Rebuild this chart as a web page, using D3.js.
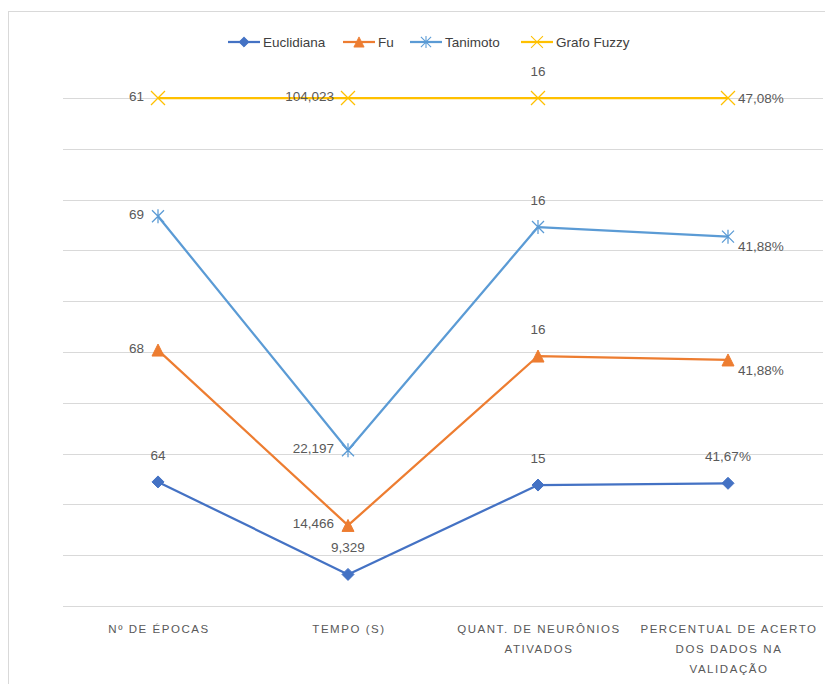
<!DOCTYPE html>
<html>
<head>
<meta charset="utf-8">
<script src="https://cdn.jsdelivr.net/npm/d3@7"></script>
<style>
  html, body { margin: 0; padding: 0; background: #ffffff; }
  svg { display: block; }
</style>
</head>
<body>
<svg id="chart" width="825" height="684"></svg>
<script>
// Categories (x axis), each wrapped onto lines
const categories = [
  ["Nº DE ÉPOCAS"],
  ["TEMPO (S)"],
  ["QUANT. DE NEURÔNIOS", "ATIVADOS"],
  ["PERCENTUAL DE ACERTO", "DOS DADOS NA", "VALIDAÇÃO"]
];

// Series values (100% stacked line chart: each column is normalised to its total)
const seriesNames = ["Euclidiana", "Fu", "Tanimoto", "Grafo Fuzzy"];
const euclidiana = [64, 9.329, 15, 41.67];
const fu         = [68, 14.466, 16, 41.88];
const tanimoto   = [69, 22.197, 16, 41.88];
const grafoFuzzy = [61, 104.023, 16, 47.08];

// Value label formats per category (decimal comma)
const labelDecimals = [0, 3, 0, 2];
const labelSuffix   = ["", "", "", "%"];

// Where each value label sits relative to its point
const labelPlacement = [
  ["above", "above", "above", "above"],
  ["left", "left", "above", "rightLow"],
  ["left", "left", "above", "rightLow"],
  ["left", "left", "above", "right"]
];

const colors = ["#4472C4", "#ED7D31", "#5B9BD5", "#FFC000"];
const markers = ["diamond", "triangle", "asterisk", "cross"];

const svg = d3.select("#chart");
const FONT = "'Liberation Sans', Arial, sans-serif";
const TEXT = "#595959";

const plot = { left: 63, right: 823, top: 98, bottom: 606 };

// outer chart-area border
svg.append("rect")
  .attr("x", 8.5).attr("y", 11.5)
  .attr("width", 840).attr("height", 700)
  .attr("fill", "none").attr("stroke", "#d9d9d9").attr("stroke-width", 1);

const x = d3.scaleBand()
  .domain(d3.range(categories.length))
  .range([plot.left, plot.right])
  .paddingInner(0).paddingOuter(0);
const xc = i => x(i) + x.bandwidth() / 2;

const y = d3.scaleLinear().domain([0, 1]).range([plot.bottom, plot.top]);

// gridlines every 10%
svg.append("g").selectAll("line")
  .data(y.ticks(10))
  .join("line")
  .attr("x1", plot.left).attr("x2", plot.right)
  .attr("y1", d => Math.round(y(d)) + 0.5).attr("y2", d => Math.round(y(d)) + 0.5)
  .attr("stroke", "#d9d9d9").attr("stroke-width", 1);

// stacked, normalised series
const raw = [euclidiana, fu, tanimoto, grafoFuzzy];
const totals = categories.map((_, i) => d3.sum(raw, s => s[i]));
const stackedShare = raw.map((s, k) =>
  s.map((_, i) => d3.sum(raw.slice(0, k + 1), r => r[i]) / totals[i]));

const fmtLocale = d3.formatLocale({ decimal: ",", thousands: ".", grouping: [3], currency: ["", ""] });
const fmtLabel = (v, i) => fmtLocale.format("." + labelDecimals[i] + "f")(v) + labelSuffix[i];

function markerPath(type) {
  const s = 6;
  switch (type) {
    case "diamond":  return `M0,${-s}L${s},0L0,${s}L${-s},0Z`;
    case "triangle": return `M0,${-s}L${s},${s}L${-s},${s}Z`;
    case "asterisk": return `M${-s},${-s}L${s},${s}M${-s},${s}L${s},${-s}M0,${-s - 1}L0,${s + 1}`;
    case "cross":    return `M${-s - 1},${-s - 1}L${s + 1},${s + 1}M${-s - 1},${s + 1}L${s + 1},${-s - 1}`;
  }
}
function drawMarker(g, type, color) {
  const filled = type === "diamond" || type === "triangle";
  g.append("path")
    .attr("d", markerPath(type))
    .attr("fill", filled ? color : "none")
    .attr("stroke", color)
    .attr("stroke-width", filled ? 1 : 1.25);
}

const line = d3.line().x((d, i) => xc(i)).y(d => y(d));

raw.forEach((s, k) => {
  const g = svg.append("g");
  g.append("path")
    .datum(stackedShare[k])
    .attr("d", line)
    .attr("fill", "none")
    .attr("stroke", colors[k])
    .attr("stroke-width", 2.25)
    .attr("stroke-linejoin", "round");

  stackedShare[k].forEach((v, i) => {
    const m = g.append("g").attr("transform", `translate(${xc(i)},${y(v)})`);
    drawMarker(m, markers[k], colors[k]);
  });

  // value labels
  s.forEach((v, i) => {
    const px = xc(i), py = y(stackedShare[k][i]);
    const place = labelPlacement[k][i];
    let tx = px, ty = py, anchor = "middle";
    if (place === "above") { ty = py - 27; }
    else if (place === "left") { tx = px - 14; anchor = "end"; ty = py - 2; }
    else if (place === "right") { tx = px + 10; anchor = "start"; }
    else if (place === "rightLow") { tx = px + 10; anchor = "start"; ty = py + 10; }
    svg.append("text")
      .attr("x", tx).attr("y", ty)
      .attr("dy", "0.35em")
      .attr("text-anchor", anchor)
      .attr("font-family", FONT)
      .attr("font-size", 13.5)
      .attr("fill", TEXT)
      .text(fmtLabel(v, i));
  });
});

// category labels
const cat = svg.append("g");
categories.forEach((lines, i) => {
  const t = cat.append("text")
    .attr("text-anchor", "middle")
    .attr("font-family", FONT)
    .attr("font-size", 11.5)
    .attr("letter-spacing", 1.55)
    .attr("fill", TEXT);
  lines.forEach((ln, j) => {
    t.append("tspan")
      .attr("x", xc(i) + 1)
      .attr("y", 633 + j * 20)
      .text(ln);
  });
});

// legend
const legend = svg.append("g").attr("transform", "translate(0,42)");
const legendX = [228, 343, 410, 521];
seriesNames.forEach((name, k) => {
  const g = legend.append("g").attr("transform", `translate(${legendX[k]},0)`);
  g.append("line")
    .attr("x1", 0).attr("x2", 32).attr("y1", 0).attr("y2", 0)
    .attr("stroke", colors[k]).attr("stroke-width", 2.25);
  const m = g.append("g").attr("transform", "translate(16,0) scale(0.85)");
  drawMarker(m, markers[k], colors[k]);
  g.append("text")
    .attr("x", 35).attr("y", 0).attr("dy", "0.35em")
    .attr("font-family", FONT)
    .attr("font-size", 13.5)
    .attr("fill", "#404040")
    .text(name);
});
</script>
</body>
</html>
